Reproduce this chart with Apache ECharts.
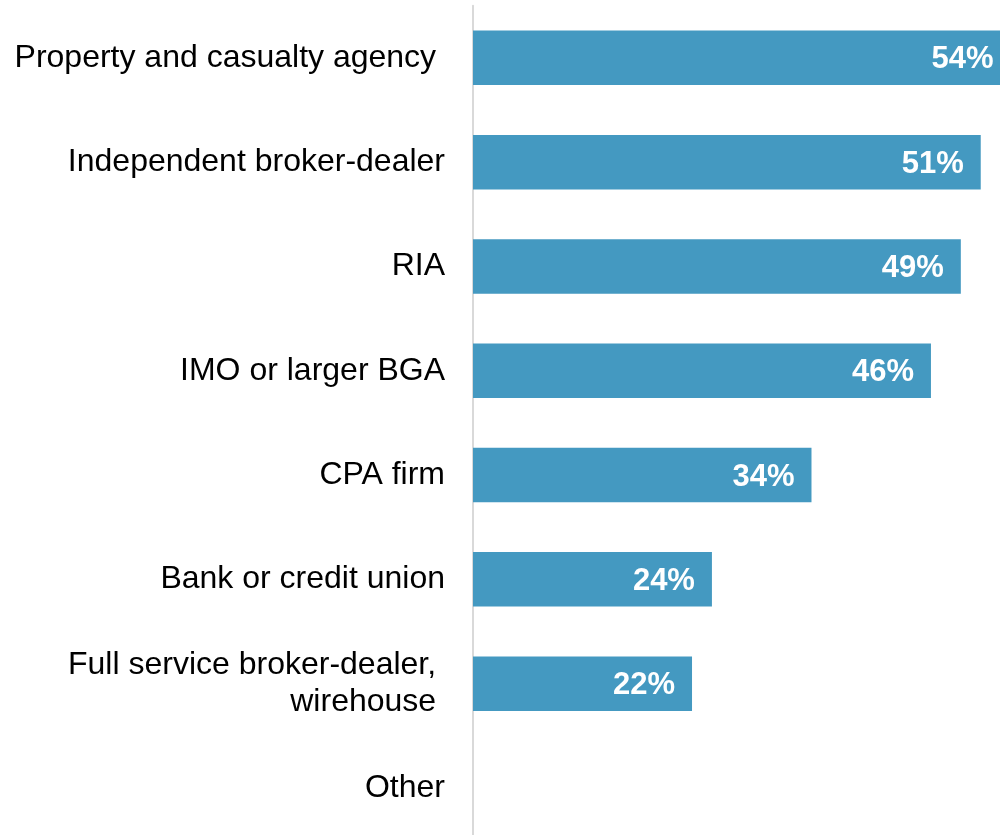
<!DOCTYPE html>
<html>
<head>
<meta charset="utf-8">
<script src="https://cdn.jsdelivr.net/npm/echarts@6/dist/echarts.min.js"></script>
<style>
  html, body { margin: 0; padding: 0; background: #ffffff; }
  #chart { width: 1000px; height: 835px; }
</style>
</head>
<body>
<div id="chart"></div>
<script>
// Share of respondents by firm type (percent)
const categories = [
  'Property and casualty agency ',
  'Independent broker-dealer',
  'RIA',
  'IMO or larger BGA',
  'CPA firm',
  'Bank or credit union',
  'Full service broker-dealer, \nwirehouse ',
  'Other'
];
const values = [54, 51, 49, 46, 34, 24, 22, null];

const chart = echarts.init(document.getElementById('chart'), null, { renderer: 'canvas' });

chart.setOption({
  animation: false,
  backgroundColor: '#ffffff',
  grid: {
    left: 473,
    top: 5.7,
    width: 537.6,
    height: 834.4,
    containLabel: false,
    outerBoundsMode: 'none'
  },
  xAxis: {
    type: 'value',
    min: 0,
    max: 54,
    show: false
  },
  yAxis: {
    type: 'category',
    data: categories,
    inverse: true,
    axisLine: { show: true, lineStyle: { color: '#d9d9d9', width: 2 } },
    axisTick: { show: false },
    splitLine: { show: false },
    axisLabel: {
      margin: 28,
      color: '#000000',
      fontFamily: 'Liberation Sans, Arial, sans-serif',
      fontSize: 32,
      lineHeight: 37,
      align: 'right'
    }
  },
  series: [{
    type: 'bar',
    data: values,
    barWidth: 54.5,
    itemStyle: { color: '#4499c1' },
    label: {
      show: true,
      position: 'insideRight',
      distance: 17,
      offset: [0, 2],
      color: '#ffffff',
      fontFamily: 'Liberation Sans, Arial, sans-serif',
      fontWeight: 'bold',
      fontSize: 31,
      formatter: p => p.value == null ? '' : p.value + '%'
    }
  }]
});
</script>
</body>
</html>
